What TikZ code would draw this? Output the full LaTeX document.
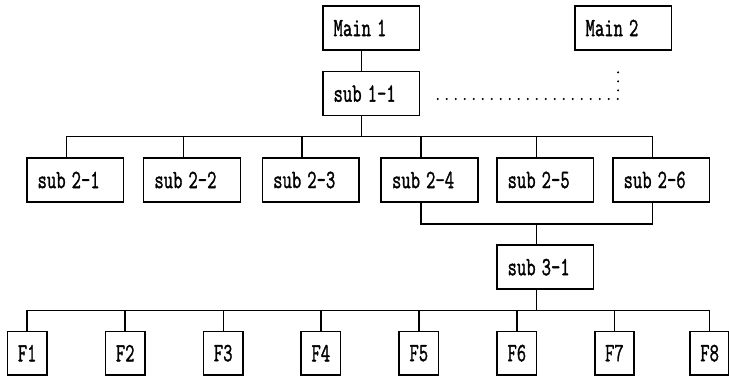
\documentclass[tikz,border=0pt]{standalone}
\usepackage{graphicx}
\usepackage{fontspec}
\newfontfamily\boxfont[FakeBold=1.6]{Latin Modern Mono}
\newcommand{\lbl}[1]{\scalebox{1}[1.45]{#1}}
\begin{document}
\begin{tikzpicture}[
  blk/.style={draw, line width=1.1pt, minimum height=1.1cm,
              text width=1.88cm, inner xsep=0.27cm, align=left,
              font=\fontsize{12.9}{14}\selectfont\boxfont},
  fnode/.style={draw, line width=1.1pt, minimum width=0.98cm,
                minimum height=1.08cm, inner sep=0pt,
                font=\fontsize{12.9}{14}\selectfont\boxfont},
  link/.style={line width=1pt},
  dotline/.style={line width=1.6pt, line cap=round,
                  dash pattern=on 0pt off 6.4pt}
]
\useasboundingbox (0,0) rectangle (18.225,-9.45);
\node[blk] (m1)  at ( 9.28, -0.70) {\lbl{Main 1}};
\node[blk] (m2)  at (15.58, -0.70) {\lbl{Main 2}};
\node[blk] (s11) at ( 9.28, -2.34) {\lbl{sub 1-1}};
\node[blk] (s21) at ( 1.88, -4.50) {\lbl{sub 2-1}};
\node[blk] (s22) at ( 4.80, -4.50) {\lbl{sub 2-2}};
\node[blk] (s23) at ( 7.77, -4.50) {\lbl{sub 2-3}};
\node[blk] (s24) at (10.74, -4.50) {\lbl{sub 2-4}};
\node[blk] (s25) at (13.63, -4.50) {\lbl{sub 2-5}};
\node[blk] (s26) at (16.53, -4.50) {\lbl{sub 2-6}};
\node[blk] (s31) at (13.63, -6.68) {\lbl{sub 3-1}};
\foreach \x [count=\i] in {0.68,3.13,5.58,8.02,10.47,12.92,15.36,17.74}
  \node[fnode] (f\i) at (\x, -8.83) {\lbl{F\i}};
% tree lines
\draw[link] ([xshift=-0.25cm]m1.south) -- ([xshift=-0.25cm]s11.north);
\foreach \i in {1,...,6}
  \draw[link] ([xshift=-0.25cm]s11.south) -- ++(0,-0.51)
    -| ([xshift=-0.22cm]s2\i.north);
\draw[link] ([xshift=-0.22cm]s24.south) -- ++(0,-0.53)
  -| ([xshift=-0.22cm]s31.north);
\draw[link] ([xshift=-0.22cm]s26.south) -- ++(0,-0.53)
  -| ([xshift=-0.22cm]s31.north);
\foreach \i in {1,...,8}
  \draw[link] ([xshift=-0.22cm]s31.south) -- ++(0,-0.52) -| (f\i.north);
% link to second main
\draw[dotline, shorten <=0.54cm, shorten >=0.385cm]
  ([xshift=-0.13cm]m2.south) |- ([yshift=-0.135cm]s11.east);
\end{tikzpicture}
\end{document}
